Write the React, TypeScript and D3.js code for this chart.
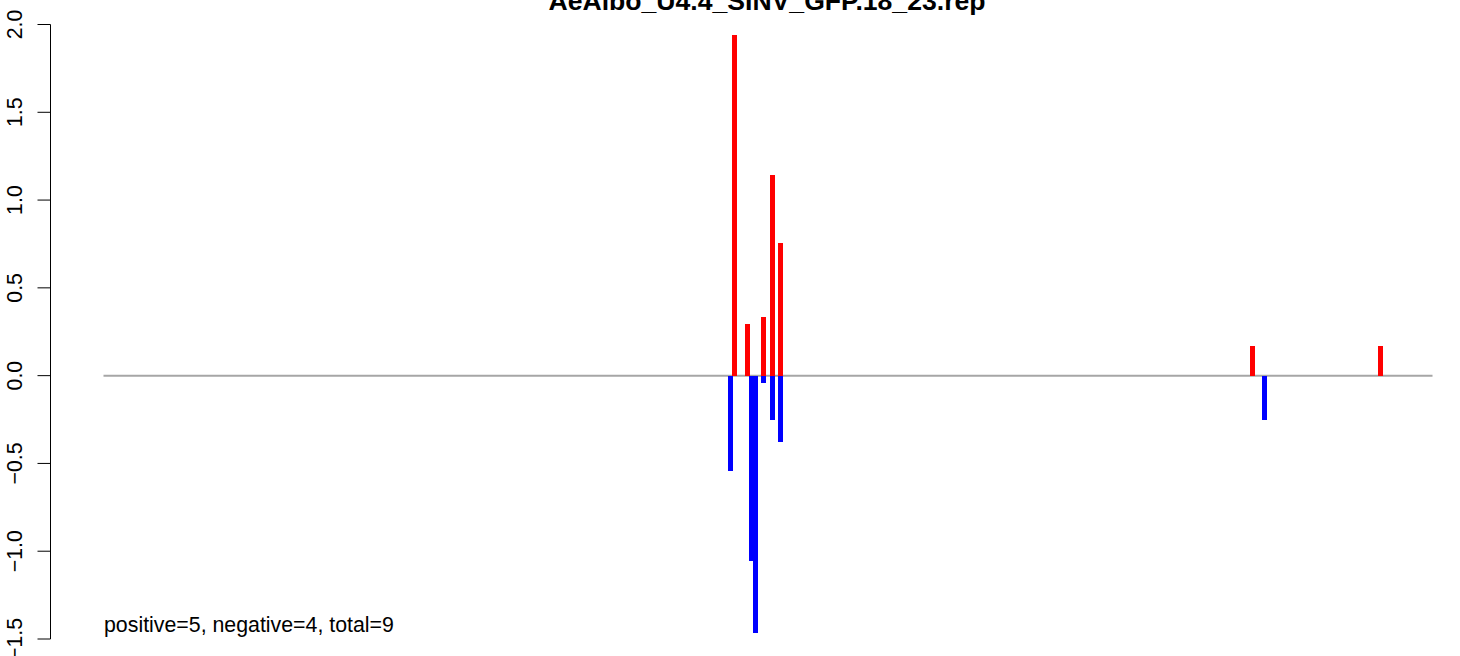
import React from "react";
import * as d3 from "d3";

const title = "AeAlbo_U4.4_SINV_GFP.18_23.rep";
const seqLength = 1329;
const positivePositions = [631, 644, 660, 669, 677, 1149, 1277];
const positiveValues = [1.94, 0.296, 0.336, 1.14, 0.758, 0.171, 0.171];
const negativePositions = [627, 648, 652, 660, 669, 677, 1161];
const negativeValues = [-0.545, -1.053, -1.468, -0.044, -0.255, -0.38, -0.255];
const yTicks = [-1.5, -1.0, -0.5, 0.0, 0.5, 1.0, 1.5, 2.0];
const summaryText = "positive=5, negative=4, total=9";

const W = 1460;
const H = 656;
const FONT = "'Liberation Sans', Arial, Helvetica, sans-serif";

export default function App() {
  const x = d3.scaleLinear().domain([0, seqLength]).range([103.5, 1432.5]);
  const y = d3.scaleLinear().domain([-1.5, 2]).range([639, 24.5]);
  const fmt = d3.format(".1f");
  const barW = 5;
  const axisX = 50.5;

  return (
    <svg
      width={W}
      height={H}
      style={{ position: "absolute", left: 0, top: 0, background: "#fff" }}
      fontFamily={FONT}
    >
      <text x={767} y={9.5} textAnchor="middle" fontWeight="bold" fontSize={26.6} fill="#000">
        {title}
      </text>

      {/* y axis */}
      <line x1={axisX} x2={axisX} y1={y(-1.5)} y2={y(2)} stroke="#000" strokeWidth={1} />
      {yTicks.map((t) => (
        <g key={t}>
          <line x1={axisX - 13} x2={axisX} y1={y(t)} y2={y(t)} stroke="#000" strokeWidth={1} />
          <text
            transform={`translate(22,${y(t)}) rotate(-90)`}
            textAnchor="middle"
            fontSize={21.33}
            fill="#000"
          >
            {fmt(t)}
          </text>
        </g>
      ))}

      {/* baseline */}
      <line x1={x(0)} x2={x(seqLength)} y1={y(0)} y2={y(0)} stroke="#A6A6A6" strokeWidth={2} />

      {/* positive bars */}
      {positivePositions.map((p, i) => (
        <rect
          key={"p" + i}
          x={x(p) - barW / 2}
          width={barW}
          y={y(positiveValues[i])}
          height={y(0) - y(positiveValues[i])}
          fill="#FF0000"
          shapeRendering="crispEdges"
        />
      ))}

      {/* negative bars */}
      {negativePositions.map((p, i) => (
        <rect
          key={"n" + i}
          x={x(p) - barW / 2}
          width={barW}
          y={y(0)}
          height={y(negativeValues[i]) - y(0)}
          fill="#0000FF"
          shapeRendering="crispEdges"
        />
      ))}

      <text x={104} y={632} fontSize={21.33} fill="#000">
        {summaryText}
      </text>
    </svg>
  );
}
